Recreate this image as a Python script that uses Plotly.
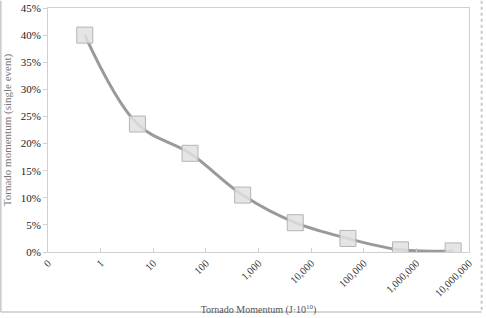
import plotly.graph_objects as go

momentum = [0.5, 5, 50, 500, 5000, 50000, 500000, 5000000]
share = [0.400, 0.236, 0.182, 0.105, 0.054, 0.025, 0.004, 0.002]
tick_vals = [0.1, 1, 10, 100, 1000, 10000, 100000, 1000000, 10000000]
tick_text = ["0", "1", "10", "100", "1,000", "10,000", "100,000", "1,000,000", "10,000,000"]
y_ticks = [0, 0.05, 0.10, 0.15, 0.20, 0.25, 0.30, 0.35, 0.40, 0.45]

serif = "Liberation Serif, Times New Roman, serif"

fig = go.Figure()
fig.add_trace(go.Scatter(
    x=momentum, y=share, mode="lines+markers",
    line=dict(color="#9a9a9a", width=3, shape="spline", smoothing=1),
    marker=dict(symbol="square", size=16, color="rgba(225,225,225,0.85)",
                line=dict(color="#b5b5b5", width=1)),
    showlegend=False,
))

fig.update_layout(
    width=486, height=318,
    margin=dict(l=48, r=17, t=8, b=66, autoexpand=False),
    paper_bgcolor="white", plot_bgcolor="white",
    font=dict(family=serif, size=11, color="#333"),
    xaxis=dict(
        type="log", range=[-1, 7], automargin=False,
        tickvals=tick_vals, ticktext=tick_text, tickangle=-45,
        tickfont=dict(family=serif, size=10.5, color="#333"),
        showgrid=False, zeroline=False,
        showline=True, linecolor="#d0d0d0", linewidth=1, mirror=True,
        ticks="inside", ticklen=4, tickcolor="#d0d0d0",
        title=dict(text="Tornado Momentum (J·10<sup>10</sup>)",
                   font=dict(family=serif, size=10, color="#555"), standoff=8),
    ),
    yaxis=dict(
        range=[0, 0.45], tickvals=y_ticks, tickformat=".0%", automargin=False,
        tickfont=dict(family=serif, size=11, color="#222"),
        showgrid=False, zeroline=False,
        showline=True, linecolor="#d0d0d0", linewidth=1, mirror=True,
        ticks="outside", ticklen=4, tickcolor="#d0d0d0",
        title=dict(text="Tornado momentum (single event)",
                   font=dict(family=serif, size=11, color="#777"), standoff=6),
    ),
    shapes=[
        dict(type="line", xref="paper", yref="paper", x0=-0.112, x1=-0.112, y0=1.03, y1=-0.246,
             line=dict(color="#c8c8c8", width=1.5)),
        dict(type="line", xref="paper", yref="paper", x0=-0.112, x1=1.03, y0=-0.246, y1=-0.246,
             line=dict(color="#c8c8c8", width=1.5)),
        dict(type="line", xref="paper", yref="paper", x0=1.03, x1=1.03, y0=1.03, y1=-0.246,
             line=dict(color="#c8c8c8", width=2, dash="dot")),
    ],
)

fig.write_html("out.html")
